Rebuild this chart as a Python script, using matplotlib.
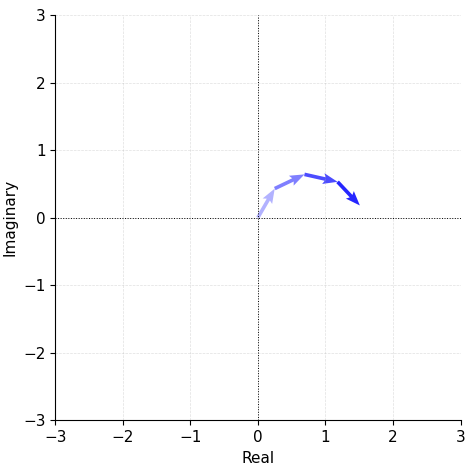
import matplotlib
matplotlib.use("Agg")
import matplotlib.pyplot as plt
import numpy as np

re_pts = [0.0, 0.25, 0.69, 1.18, 1.51]
im_pts = [0.0, 0.43, 0.64, 0.53, 0.18]
alphas = [0.3, 0.5, 0.7, 0.85, 1.0]

fig, ax = plt.subplots(figsize=(4.74, 4.67), dpi=100)
ax.axhline(0, color='black', lw=0.7, ls=':')
ax.axvline(0, color='black', lw=0.7, ls=':')
for i in range(len(re_pts) - 1):
    ax.quiver(re_pts[i], im_pts[i], re_pts[i+1]-re_pts[i], im_pts[i+1]-im_pts[i],
              angles='xy', scale_units='xy', scale=1, color='blue', alpha=alphas[i],
              width=0.009, headwidth=3, headlength=4, headaxislength=3.5)
ax.set_xlim(-3, 3)
ax.set_ylim(-3, 3)
ax.set_xlabel('Real', fontsize=11)
ax.set_ylabel('Imaginary', fontsize=11)
ax.tick_params(labelsize=11)
ax.spines['top'].set_visible(False)
ax.spines['right'].set_visible(False)
ax.grid(True, ls='--', lw=0.5, alpha=0.4)
ax.set_aspect('equal')
plt.subplots_adjust(left=0.115, right=0.973, bottom=0.1, top=0.968)
fig.savefig('out.png', dpi=100)
